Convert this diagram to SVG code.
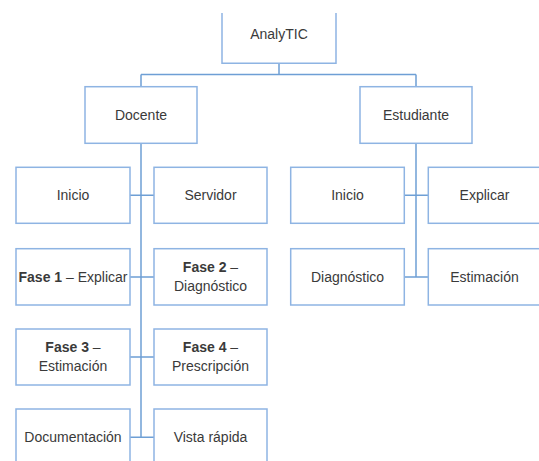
<svg xmlns="http://www.w3.org/2000/svg" width="539" height="461" viewBox="0 0 539 461">
<style>
.box{fill:#ffffff;stroke:#8eb4e3;stroke-width:1.5}
.conn{fill:none;stroke:#6e9fd5;stroke-width:1.5}
text{font-family:"Liberation Sans",Arial,sans-serif;font-size:14px;fill:#3a3a3a;text-anchor:middle}
.b{font-weight:bold}
</style>
<rect width="539" height="461" fill="#ffffff"/>
<g id="connectors">
<path class="conn" d="M279,63.3 V74.5 M141,74.5 H416 M141,74.5 V87 M416,74.5 V87"/>
<path class="conn" d="M141,143.3 V437.3"/>
<path class="conn" d="M130,195.3 H154 M130,277 H154 M130,357 H154 M130,437.3 H154"/>
<path class="conn" d="M416,143.3 V277"/>
<path class="conn" d="M404,195.3 H428 M404,277 H428"/>
</g>
<g id="analytic">
<path class="box" d="M222,13 V63.3 H336 V13"/>
<text x="279" y="39">AnalyTIC</text>
</g>
<g id="docente">
<rect class="box" x="85" y="86.7" width="112" height="56.6"/>
<text x="141" y="120">Docente</text>
</g>
<g id="estudiante">
<rect class="box" x="360" y="86.7" width="112" height="56.6"/>
<text x="416" y="120">Estudiante</text>
</g>
<g id="d-inicio">
<rect class="box" x="16" y="167.3" width="114" height="56"/>
<text x="73" y="200">Inicio</text>
</g>
<g id="d-servidor">
<rect class="box" x="154" y="167.3" width="113" height="56"/>
<text x="210.5" y="200">Servidor</text>
</g>
<g id="d-fase1">
<rect class="box" x="16" y="248.7" width="114" height="56.3"/>
<text x="73" y="282"><tspan class="b">Fase 1</tspan> – Explicar</text>
</g>
<g id="d-fase2">
<rect class="box" x="154" y="248.7" width="113" height="56.3"/>
<text x="210.5" y="272"><tspan class="b">Fase 2</tspan> –</text>
<text x="210.5" y="291">Diagnóstico</text>
</g>
<g id="d-fase3">
<rect class="box" x="16" y="329" width="114" height="56"/>
<text x="73" y="352"><tspan class="b">Fase 3</tspan> –</text>
<text x="73" y="371">Estimación</text>
</g>
<g id="d-fase4">
<rect class="box" x="154" y="329" width="113" height="56"/>
<text x="210.5" y="352"><tspan class="b">Fase 4</tspan> –</text>
<text x="210.5" y="371">Prescripción</text>
</g>
<g id="d-documentacion">
<rect class="box" x="16" y="409" width="114" height="60"/>
<text x="73" y="442">Documentación</text>
</g>
<g id="d-vista">
<rect class="box" x="154" y="409" width="113" height="60"/>
<text x="210.5" y="442">Vista rápida</text>
</g>
<g id="e-inicio">
<rect class="box" x="290.7" y="167.3" width="113.6" height="56"/>
<text x="347.5" y="200">Inicio</text>
</g>
<g id="e-explicar">
<rect class="box" x="428.3" y="167.3" width="113.6" height="56"/>
<text x="484.5" y="200">Explicar</text>
</g>
<g id="e-diagnostico">
<rect class="box" x="290.7" y="248.7" width="113.6" height="56.3"/>
<text x="347.5" y="282">Diagnóstico</text>
</g>
<g id="e-estimacion">
<rect class="box" x="428.3" y="248.7" width="113.6" height="56.3"/>
<text x="484.5" y="282">Estimación</text>
</g>
</svg>
